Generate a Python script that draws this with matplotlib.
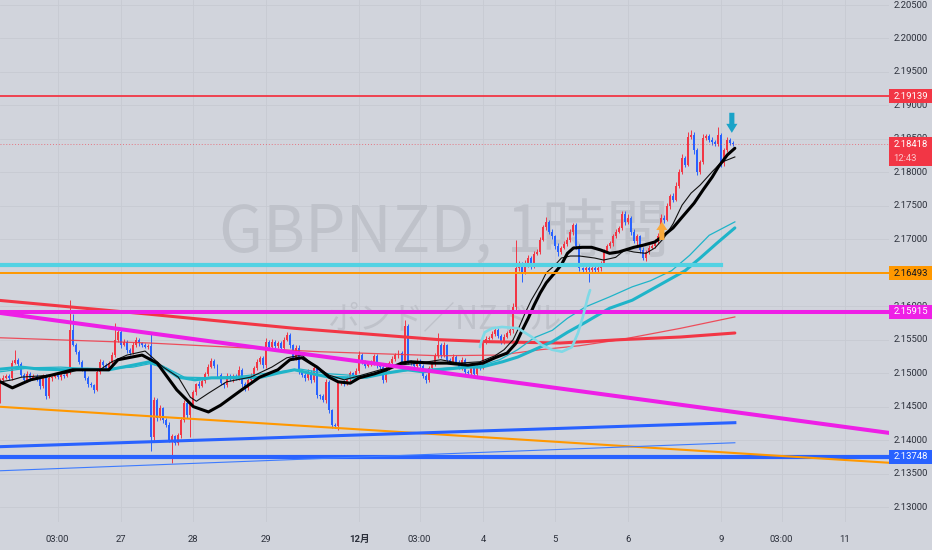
import numpy as np
import matplotlib
matplotlib.use('Agg')
import matplotlib.pyplot as plt
from matplotlib import font_manager
from matplotlib.patches import Rectangle

# ---------------- data ----------------
first_bar = -41          # bar index of first close (bar 0 = 27 Nov 00:00)
closes = [
    2.1475, 2.1490, 2.1493, 2.1496, 2.1493, 2.1515, 2.1520, 2.1514, 2.1497, 2.1490,
    2.1499, 2.1493, 2.1496, 2.1491, 2.1481, 2.1496, 2.1466, 2.1493, 2.1494, 2.1497,
    2.1494, 2.1497, 2.1496, 2.1502, 2.1564, 2.1542, 2.1532, 2.1517, 2.1505, 2.1493,
    2.1484, 2.1482, 2.1475, 2.1502, 2.1517, 2.1512, 2.1508, 2.1515, 2.1527, 2.1550,
    2.1561, 2.1542, 2.1547, 2.1535, 2.1530, 2.1542, 2.1550, 2.1545, 2.1542, 2.1539,
    2.1541, 2.1405, 2.1460, 2.1433, 2.1448, 2.1430, 2.1423, 2.1400, 2.1406, 2.1396,
    2.1408, 2.1430, 2.1455, 2.1437, 2.1452, 2.1472, 2.1484, 2.1481, 2.1488, 2.1499,
    2.1509, 2.1518, 2.1511, 2.1497, 2.1485, 2.1482, 2.1496, 2.1491, 2.1496, 2.1493,
    2.1505, 2.1484, 2.1478, 2.1490, 2.1496, 2.1508, 2.1517, 2.1523, 2.1512, 2.1547,
    2.1539, 2.1547, 2.1541, 2.1545, 2.1538, 2.1550, 2.1557, 2.1542, 2.1523, 2.1538,
    2.1502, 2.1497, 2.1493, 2.1502, 2.1490, 2.1508, 2.1467, 2.1466, 2.1460, 2.1487,
    2.1445, 2.1423, 2.1421, 2.1485, 2.1487, 2.1485, 2.1491, 2.1500, 2.1496, 2.1503,
    2.1527, 2.1517, 2.1511, 2.1514, 2.1515, 2.1526, 2.1512, 2.1509, 2.1490, 2.1508,
    2.1515, 2.1521, 2.1527, 2.1530, 2.1517, 2.1570, 2.1517, 2.1515, 2.1511, 2.1518,
    2.1511, 2.1496, 2.1490, 2.1508, 2.1514, 2.1526, 2.1542, 2.1527, 2.1542, 2.1520,
    2.1517, 2.1524, 2.1517, 2.1509, 2.1520, 2.1502, 2.1500, 2.1511, 2.1499, 2.1511,
    2.1509, 2.1545, 2.1551, 2.1553, 2.1559, 2.1564, 2.1556, 2.1547, 2.1554, 2.1560,
    2.1564, 2.1599, 2.1657, 2.1662, 2.1651, 2.1663, 2.1672, 2.1660, 2.1678, 2.1681,
    2.1699, 2.1718, 2.1726, 2.1711, 2.1705, 2.1690, 2.1681, 2.1687, 2.1693, 2.1699,
    2.1711, 2.1721, 2.1690, 2.1657, 2.1654, 2.1657, 2.1654, 2.1657, 2.1654, 2.1657,
    2.1665, 2.1681, 2.1690, 2.1694, 2.1705, 2.1711, 2.1717, 2.1738, 2.1726, 2.1732,
    2.1711, 2.1697, 2.1705, 2.1684, 2.1672, 2.1681, 2.1687, 2.1690, 2.1696, 2.1705,
    2.1732, 2.1729, 2.1750, 2.1765, 2.1759, 2.1780, 2.1801, 2.1822, 2.1811, 2.1853,
    2.1856, 2.1833, 2.1801, 2.1815, 2.1851, 2.1854, 2.1848, 2.1845, 2.1842, 2.1856,
    2.1814, 2.1833, 2.1848, 2.1844, 2.18418,
]
wick_up_pips = [
    3, 2, 4, 3, 2, 5, 15, 3, 2, 3,
    4, 2, 3, 2, 3, 3, 2, 4, 2, 3,
    2, 3, 2, 3, 45, 25, 3, 2, 3, 2,
    2, 3, 2, 3, 4, 2, 3, 3, 4, 25,
    5, 3, 4, 2, 3, 5, 4, 3, 2, 3,
    3, 18, 5, 3, 4, 2, 3, 4, 3, 2,
    3, 4, 5, 3, 4, 3, 2, 4, 3, 3,
    4, 5, 3, 2, 3, 2, 4, 3, 2, 3,
    5, 2, 3, 3, 4, 3, 4, 2, 3, 6,
    3, 4, 2, 3, 3, 4, 5, 3, 2, 4,
    4, 2, 3, 4, 2, 5, 3, 2, 3, 4,
    3, 2, 3, 3, 2, 3, 4, 3, 2, 4,
    6, 3, 2, 3, 4, 3, 2, 3, 4, 3,
    3, 4, 3, 5, 3, 9, 3, 2, 3, 4,
    3, 2, 3, 3, 4, 4, 18, 3, 5, 2,
    3, 4, 3, 2, 4, 3, 2, 3, 2, 4,
    3, 5, 4, 3, 4, 5, 3, 2, 4, 3,
    4, 6, 42, 5, 4, 6, 4, 3, 5, 4,
    5, 4, 7, 3, 4, 2, 4, 3, 5, 4,
    5, 3, 4, 3, 2, 4, 3, 5, 3, 4,
    3, 5, 3, 4, 3, 4, 3, 5, 4, 6,
    3, 4, 3, 2, 4, 3, 4, 3, 5, 4,
    6, 5, 4, 3, 4, 5, 4, 6, 3, 8,
    8, 5, 3, 4, 6, 4, 3, 5, 4, 12,
    3, 4, 5, 4, 3,
]
wick_dn_pips = [
    3, 20, 4, 2, 3, 3, 2, 4, 3, 5,
    3, 4, 2, 3, 4, 3, 5, 3, 4, 2,
    3, 4, 3, 2, 3, 2, 3, 4, 2, 3,
    4, 3, 5, 2, 3, 4, 3, 2, 3, 3,
    3, 4, 2, 5, 3, 2, 3, 4, 3, 2,
    3, 22, 6, 4, 3, 5, 4, 3, 34, 4,
    3, 5, 3, 4, 33, 3, 4, 3, 2, 3,
    3, 2, 4, 5, 3, 4, 3, 2, 4, 3,
    3, 5, 4, 3, 2, 3, 4, 3, 5, 4,
    3, 2, 4, 3, 5, 3, 2, 4, 3, 3,
    4, 3, 5, 3, 4, 3, 4, 5, 3, 4,
    4, 5, 3, 6, 3, 4, 3, 2, 3, 3,
    3, 4, 3, 2, 4, 3, 4, 3, 5, 3,
    3, 2, 3, 4, 3, 3, 4, 3, 2, 3,
    4, 3, 5, 3, 2, 3, 3, 4, 3, 4,
    3, 2, 4, 3, 4, 5, 3, 4, 3, 3,
    4, 3, 2, 3, 2, 4, 3, 4, 3, 2,
    3, 4, 5, 4, 15, 3, 4, 5, 3, 2,
    3, 2, 4, 3, 4, 5, 6, 3, 2, 3,
    3, 4, 5, 4, 3, 4, 18, 5, 4, 3,
    4, 3, 2, 3, 4, 3, 2, 3, 5, 3,
    4, 3, 5, 4, 3, 4, 3, 2, 3, 3,
    3, 4, 2, 5, 3, 2, 3, 4, 3, 2,
    3, 5, 5, 4, 3, 2, 3, 4, 3, 3,
    6, 4, 3, 3, 3,
]
pip = 0.0001

# moving averages (bar index, price)
ema_fast_x = [-40, -36, -30, -23, -16, -4, -1, 7, 12, 18.5, 24, 29, 33, 40, 46, 52, 56, 60, 65, 69,
              72, 76, 79, 84, 88, 93, 96, 103, 108, 115, 120, 124, 128, 131, 133, 135, 137, 139,
              141, 144, 146, 148, 150, 153, 156, 159, 162, 165, 170, 173, 177, 180, 183, 186, 190,
              193, 196, 198, 201, 203.5]
ema_fast_y = [2.1487, 2.1478, 2.1490, 2.1497, 2.1505, 2.1505, 2.1520, 2.1527, 2.1515, 2.1475,
              2.1450, 2.1442, 2.1452, 2.1475, 2.1494, 2.1505, 2.1520, 2.1523, 2.1509, 2.1494,
              2.1487, 2.1485, 2.1493, 2.1499, 2.1505, 2.1515, 2.1517, 2.1515, 2.1515, 2.1512,
              2.1515, 2.1523, 2.1530, 2.1545, 2.1564, 2.1582, 2.1602, 2.1620, 2.1635, 2.1651,
              2.1662, 2.1679, 2.1687, 2.1688, 2.1688, 2.1684, 2.1679, 2.1681, 2.1688, 2.1691,
              2.1696, 2.1706, 2.1717, 2.1733, 2.1754, 2.1774, 2.1793, 2.1808, 2.1826, 2.1836]
sma_fast_x = [-40, -36, -33, -23, -18, -14, -7, -3, 2, 8, 14, 19, 23, 25, 29, 35, 43, 50, 55, 60,
              63, 69, 74, 79, 86, 92, 99, 106, 112, 119, 124, 127, 130, 132, 134, 136, 139, 141,
              144, 146, 149, 152, 157, 160, 164, 167, 170, 174, 177, 180, 183, 186, 189, 192,
              196, 199, 203.5]
sma_fast_y = [2.1487, 2.1490, 2.1494, 2.1497, 2.1500, 2.1505, 2.1505, 2.1517, 2.1527, 2.1533,
              2.1509, 2.1494, 2.1464, 2.1458, 2.1470, 2.1487, 2.1494, 2.1509, 2.1523, 2.1527,
              2.1515, 2.1497, 2.1490, 2.1496, 2.1505, 2.1512, 2.1515, 2.1520, 2.1515, 2.1517,
              2.1526, 2.1535, 2.1550, 2.1569, 2.1590, 2.1609, 2.1632, 2.1650, 2.1662, 2.1672,
              2.1675, 2.1675, 2.1672, 2.1669, 2.1673, 2.1684, 2.1681, 2.1679, 2.1687, 2.1702,
              2.1723, 2.1751, 2.1769, 2.1781, 2.1801, 2.1815, 2.1823]
ma_mid_x = [-40, -33, -27, -18, -11, -4, 4, 9.5, 14, 19, 24.5, 30, 41, 46.5, 52, 57.5, 62.5, 69,
            76, 81.5, 88, 95, 100, 105.5, 115, 119.5, 126.5, 131.5, 137, 143, 148, 154, 157, 162,
            169.5, 175.5, 187, 192, 197.5, 203.5]
ma_mid_y = [2.1506, 2.1509, 2.1506, 2.1505, 2.1506, 2.1505, 2.1512, 2.1517, 2.1509, 2.1494,
            2.1490, 2.1493, 2.1493, 2.1494, 2.1500, 2.1505, 2.1500, 2.1494, 2.1493, 2.1494,
            2.1500, 2.1505, 2.1502, 2.1505, 2.1509, 2.1509, 2.1517, 2.1524, 2.1535, 2.1547,
            2.1561, 2.1576, 2.1584, 2.1597, 2.1609, 2.1624, 2.1653, 2.1672, 2.1694, 2.1717]
ma_mid2_x = [-40, -30, -20, -7, 4, 9.5, 15, 21, 30, 41, 52.5, 59.5, 69, 79, 89, 99, 109, 119,
             125.5, 131.5, 137, 143, 148, 154, 162, 169.5, 175.5, 182.5, 188.5, 195, 203.5]
ma_mid2_y = [2.1502, 2.1508, 2.1509, 2.1506, 2.1509, 2.1514, 2.1508, 2.1494, 2.1493, 2.1496,
             2.1502, 2.1506, 2.1499, 2.1496, 2.1502, 2.1505, 2.1508, 2.1511, 2.1520, 2.1535,
             2.1553, 2.1564, 2.1582, 2.1599, 2.1614, 2.1629, 2.1638, 2.1653, 2.1676, 2.1706,
             2.1726]
ma_long_x = [-41, 9.5, 57.5, 105.5, 122, 145.5, 165.5, 185.5, 203.5]
ma_long_y = [2.1609, 2.1588, 2.1567, 2.1550, 2.1547, 2.1545, 2.1550, 2.1554, 2.1560]
ma_long2_x = [-41, 9.5, 66, 105.5, 125.5, 139, 152, 165.5, 185.5, 203.5]
ma_long2_y = [2.1553, 2.1545, 2.1532, 2.1526, 2.1527, 2.1535, 2.1541, 2.1550, 2.1567, 2.1584]

# drawings
level_red = 2.19139
level_orange = 2.16493
level_magenta = 2.15915
level_blue = 2.13748
level_cyan = 2.1662
level_cyan_end = 199
last_price = 2.18418
countdown = '12:43'
trend_magenta = ([-41, 255], [2.15905, 2.14105])
trend_orange = ([-41, 255], [2.1450, 2.1366])
trend_blue = ([-41, 203.5], [2.1390, 2.1426])
trend_blue_thin = ([-41, 203.5], [2.1354, 2.1396])
sketch_x = [119, 119.5, 120.6, 123, 126.3, 131.6, 136.2, 139.5, 142.9, 146.2, 149.5, 151.5, 153.1, 154.8, 155.5]
sketch_y = [2.1539, 2.1548, 2.1561, 2.1567, 2.1569, 2.1567, 2.1554, 2.1542, 2.1535, 2.1532, 2.1539,
            2.1560, 2.1584, 2.1614, 2.1624]
arrow_up = (179.3, 2.1699, 2.1726)     # bar, tail price, tip price
arrow_down = (202.5, 2.1889, 2.1859)

time_tick_bars = [-21, 0, 24, 48, 79, 99, 120, 144, 168, 199, 219, 240]
time_tick_labels = ['03:00', '27', '28', '29', '12月', '03:00', '4', '5', '6', '9', '03:00', '11']
price_ticks = [2.130, 2.135, 2.140, 2.145, 2.150, 2.155, 2.160, 2.165, 2.170,
               2.175, 2.180, 2.185, 2.190, 2.195, 2.200, 2.205]

# ---------------- style ----------------
avail = {f.name for f in font_manager.fontManager.ttflist}
ui_font = 'Roboto' if 'Roboto' in avail else 'DejaVu Sans'
plt.rcParams['font.family'] = [ui_font, 'Noto Sans CJK JP', 'DejaVu Sans']

BG = '#d1d4dc'
GRID = '#c7cad2'
TXT = '#2b2f3a'
RED = '#f23645'
BLUE = '#2962ff'
ORANGE = '#ff9800'
MAGENTA = '#ee1fe6'
CYAN_H = '#52d2e3'
CYAN_MA = '#1fb4c9'
WM = '#bfc2ca'
FS = 6.8

W, H = 932, 550
PLOT_R = 889
AX_B = 28
fig = plt.figure(figsize=(W / 100, H / 100), dpi=100, facecolor=BG)
ax = fig.add_axes([0, AX_B / H, PLOT_R / W, (H - AX_B) / H], facecolor=BG)
XL = (-40.1, 254.6)
YL = (2.12776, 2.20575)
ax.set_xlim(*XL)
ax.set_ylim(*YL)
for s in ax.spines.values():
    s.set_visible(False)

# grid
for p in price_ticks:
    ax.axhline(p, color=GRID, lw=0.6, zorder=0)
for b in time_tick_bars:
    ax.axvline(b, color=GRID, lw=0.6, zorder=0)

# watermark
ax.text(0.5, 0.517, 'GBPNZD, 1時間', transform=ax.transAxes, ha='center', va='baseline',
        fontsize=46, color=WM, family=['Noto Sans CJK JP'], zorder=0.5)
ax.text(0.5, 0.372, 'ポンド／NZドル', transform=ax.transAxes, ha='center', va='baseline',
        fontsize=23, color=WM, family=['Noto Sans CJK JP'], zorder=0.5)

# candles
c = np.array(closes)
n = len(c)
idx = np.arange(first_bar, first_bar + n)
o = np.empty(n)
o[1:] = c[:-1]
o[0] = c[0]
hi = np.maximum(o, c) + np.array(wick_up_pips) * pip
lo = np.minimum(o, c) - np.array(wick_dn_pips) * pip
cols = np.where(c >= o, RED, BLUE)
ax.vlines(idx, lo, hi, colors=cols, lw=0.7, zorder=2)
body_h = np.maximum(np.abs(c - o), 0.00013)
ax.bar(idx, body_h, bottom=np.minimum(o, c), width=0.66, color=cols, linewidth=0, zorder=2.1)

# moving averages
ax.plot(ma_long_x, ma_long_y, color=RED, lw=2.2, zorder=3, solid_capstyle='round')
ax.plot(ma_long2_x, ma_long2_y, color=RED, lw=0.9, alpha=0.85, zorder=3)
ax.plot(ma_mid_x, ma_mid_y, color=CYAN_MA, lw=2.2, zorder=3, solid_capstyle='round')
ax.plot(ma_mid2_x, ma_mid2_y, color=CYAN_MA, lw=0.9, zorder=3)
ax.plot(sma_fast_x, sma_fast_y, color='#111111', lw=0.8, zorder=3.2)
ax.plot(ema_fast_x, ema_fast_y, color='#000000', lw=2.2, zorder=3.3, solid_capstyle='round')

# drawings
ax.axhline(last_price, color=RED, lw=0.7, ls=(0, (1, 2)), alpha=0.6, zorder=3.5)
ax.axhline(level_red, color=RED, lw=1.3, zorder=4)
ax.axhline(level_orange, color=ORANGE, lw=1.4, zorder=4)
ax.axhline(level_magenta, color=MAGENTA, lw=2.9, zorder=4)
ax.axhline(level_blue, color=BLUE, lw=3.0, zorder=4)
ax.plot([first_bar, level_cyan_end], [level_cyan, level_cyan], color=CYAN_H, lw=3.0, zorder=4)
ax.plot(*trend_magenta, color=MAGENTA, lw=2.9, zorder=4)
ax.plot(*trend_orange, color=ORANGE, lw=1.5, zorder=4)
ax.plot(*trend_blue, color=BLUE, lw=2.2, zorder=4)
ax.plot(*trend_blue_thin, color='#3d7bff', lw=0.8, zorder=4)
ax.plot(sketch_x, sketch_y, color='#7fd9e6', lw=1.9, zorder=5, solid_capstyle='round',
        solid_joinstyle='round')

def draw_arrow(spec, color):
    xb, tail, tip = spec
    d = tip - tail
    head = 0.45 * d
    hw, sw = 1.85, 0.85
    xs = [xb - sw, xb - sw, xb - hw, xb, xb + hw, xb + sw, xb + sw]
    ys = [tail, tip - head, tip - head, tip, tip - head, tip - head, tail]
    ax.fill(xs, ys, color=color, lw=0, zorder=6)

draw_arrow(arrow_up, '#f9a93b')
draw_arrow(arrow_down, '#1aa3c8')

# time axis
ax.set_yticks([])
ax.set_xticks(time_tick_bars)
ax.set_xticklabels(time_tick_labels)
ax.tick_params(axis='x', length=0, pad=9, labelsize=FS, labelcolor=TXT)
for lab in ax.get_xticklabels():
    if lab.get_text() == '12月':
        lab.set_fontweight('bold')

# price axis
pax = fig.add_axes([PLOT_R / W, AX_B / H, (W - PLOT_R) / W, (H - AX_B) / H], facecolor=BG)
pax.set_xlim(0, 1)
pax.set_ylim(*YL)
pax.set_xticks([])
pax.set_yticks([])
for s in pax.spines.values():
    s.set_visible(False)
for p in price_ticks:
    pax.text(0.10, p, f'{p:.5f}', ha='left', va='center', fontsize=FS, color=TXT, zorder=1)

BOX_H = 0.00209
def price_box(level, face, tcol):
    pax.add_patch(Rectangle((0.0, level - BOX_H / 2), 1.0, BOX_H, facecolor=face,
                            edgecolor='none', zorder=2))
    pax.text(0.10, level, f'{level:.5f}', ha='left', va='center', fontsize=FS,
             color=tcol, zorder=3)

price_box(level_red, RED, 'white')
price_box(level_orange, ORANGE, '#131722')
price_box(level_magenta, MAGENTA, 'white')
price_box(level_blue, BLUE, 'white')
# current price with countdown
top = last_price + BOX_H / 2
bot = last_price - BOX_H / 2 - 0.00222
pax.add_patch(Rectangle((0.0, bot), 1.0, top - bot, facecolor=RED, edgecolor='none', zorder=2))
pax.text(0.10, last_price, f'{last_price:.5f}', ha='left', va='center', fontsize=FS,
         color='white', zorder=3)
pax.text(0.10, last_price - 0.00205, countdown, ha='left', va='center', fontsize=FS,
         color='#fcc8cd', zorder=3)

fig.savefig('out.png', dpi=100, facecolor=BG)
